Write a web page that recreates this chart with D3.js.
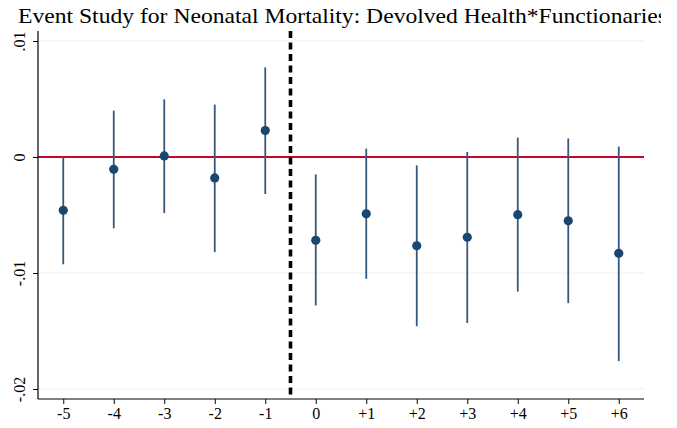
<!DOCTYPE html>
<html>
<head>
<meta charset="utf-8">
<script src="https://cdn.jsdelivr.net/npm/d3@7/dist/d3.min.js"></script>
<style>
    body { margin: 0; background: #fff; }
    svg { display: block; background: #fff; }
    .axis text { font-family: "Liberation Serif", "Times New Roman", serif; font-size: 16px; fill: #000; }
    .axis line { stroke: #000; }
    .axis path { display: none; }
</style>
</head>
<body>
<div id="chart"></div>
<script>
    // event times and estimates
    var periods = [-5, -4, -3, -2, -1, 0, 1, 2, 3, 4, 5, 6];
    var periodLabels = ["-5", "-4", "-3", "-2", "-1", "0", "+1", "+2", "+3", "+4", "+5", "+6"];
    var coef  = [-0.0046, -0.00106, 0.00009, -0.0018, 0.00228, -0.00718, -0.0049, -0.00765, -0.00692, -0.00497, -0.0055, -0.0083];
    var lower = [-0.00925, -0.00615, -0.00483, -0.0082, -0.00319, -0.0128, -0.0105, -0.01459, -0.01431, -0.01161, -0.0126, -0.0176];
    var upper = [0.0000, 0.0040, 0.00497, 0.00452, 0.00773, -0.0015, 0.00072, -0.00072, 0.00043, 0.00167, 0.0016, 0.0009];
    var yTicks = [0.01, 0, -0.01, -0.02];
    var yTickLabels = [".01", "0", "-.01", "-.02"];
    var eventLine = -0.5;

    var W = 677, H = 428;
    var plot = { left: 38, right: 644, top: 31, bottom: 399 };

    var svg = d3.select("#chart").append("svg")
        .attr("width", W)
        .attr("height", H);

    var x = d3.scaleLinear().domain([-5.5, 6.5]).range([plot.left, plot.right]);
    var y = d3.scaleLinear().domain([-0.02, 0.01]).range([389, 41]);

    // clip region for the title (cut at the right edge like the original)
    svg.append("clipPath").attr("id", "titleclip")
        .append("rect").attr("x", 0).attr("y", 0).attr("width", 661).attr("height", 30);

    svg.append("text")
        .attr("clip-path", "url(#titleclip)")
        .attr("x", 18)
        .attr("y", 23)
        .attr("textLength", 649)
        .attr("lengthAdjust", "spacingAndGlyphs")
        .style("font-family", "'Liberation Serif', 'Times New Roman', serif")
        .style("font-size", "21px")
        .text("Event Study for Neonatal Mortality: Devolved Health*Functionaries");

    // gridlines
    svg.append("g").selectAll("line")
        .data(yTicks)
        .enter().append("line")
        .attr("x1", plot.left).attr("x2", plot.right)
        .attr("y1", function (d) { return y(d); })
        .attr("y2", function (d) { return y(d); })
        .attr("stroke", "#eaf1f2")
        .attr("stroke-width", 1.2);

    // zero line
    svg.append("line")
        .attr("x1", plot.left).attr("x2", plot.right)
        .attr("y1", y(0)).attr("y2", y(0))
        .attr("stroke", "#c4062f")
        .attr("stroke-width", 2);

    // event line
    svg.append("line")
        .attr("x1", x(eventLine)).attr("x2", x(eventLine))
        .attr("y1", plot.top).attr("y2", plot.bottom)
        .attr("stroke", "#000")
        .attr("stroke-width", 3.6)
        .attr("stroke-dasharray", "7,4.5");

    var data = periods.map(function (p, i) {
        return { p: p, b: coef[i], lo: lower[i], hi: upper[i] };
    });

    // confidence intervals
    svg.append("g").selectAll("line")
        .data(data)
        .enter().append("line")
        .attr("x1", function (d) { return x(d.p); })
        .attr("x2", function (d) { return x(d.p); })
        .attr("y1", function (d) { return y(d.hi); })
        .attr("y2", function (d) { return y(d.lo); })
        .attr("stroke", "#35597c")
        .attr("stroke-width", 1.8);

    // point estimates
    svg.append("g").selectAll("circle")
        .data(data)
        .enter().append("circle")
        .attr("cx", function (d) { return x(d.p); })
        .attr("cy", function (d) { return y(d.b); })
        .attr("r", 4.6)
        .attr("fill", "#1a476f");

    // axes
    var xAxis = d3.axisBottom(x)
        .tickValues(periods)
        .tickSize(5)
        .tickPadding(4)
        .tickFormat(function (d, i) { return periodLabels[i]; });

    svg.append("g")
        .attr("class", "axis")
        .attr("transform", "translate(0," + plot.bottom + ")")
        .call(xAxis);

    var yAxis = d3.axisLeft(y)
        .tickValues(yTicks)
        .tickSize(5)
        .tickFormat(function (d, i) { return yTickLabels[i]; });

    var gy = svg.append("g")
        .attr("class", "axis")
        .attr("transform", "translate(" + plot.left + ",0)")
        .call(yAxis);

    gy.selectAll(".tick text")
        .attr("x", 0)
        .attr("dy", null)
        .attr("text-anchor", "middle")
        .attr("transform", "translate(-13,0) rotate(-90)");

    // axis lines
    svg.append("line")
        .attr("x1", plot.left).attr("x2", plot.left)
        .attr("y1", plot.top).attr("y2", plot.bottom)
        .attr("stroke", "#000").attr("stroke-width", 1.2);
    svg.append("line")
        .attr("x1", plot.left).attr("x2", plot.right)
        .attr("y1", plot.bottom).attr("y2", plot.bottom)
        .attr("stroke", "#000").attr("stroke-width", 1.2);
</script>
</body>
</html>
